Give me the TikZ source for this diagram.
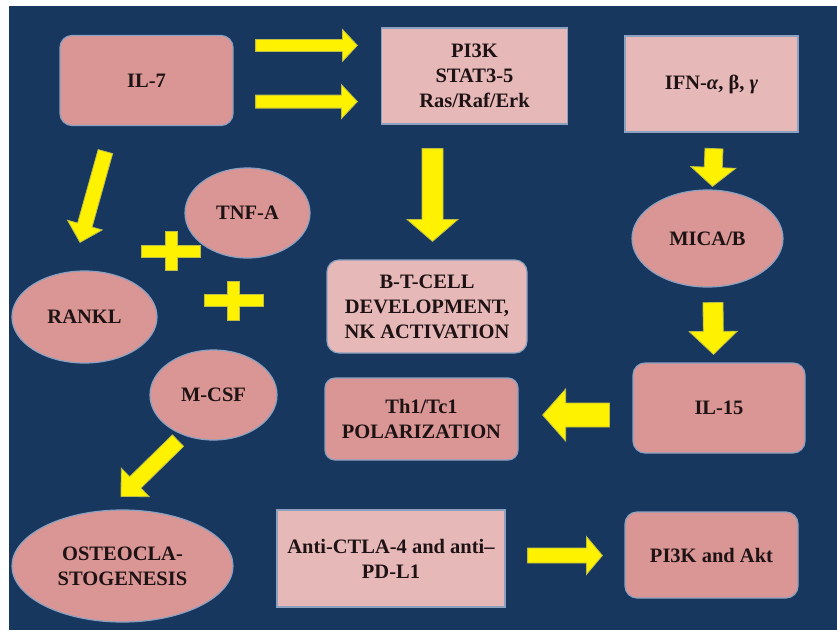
\documentclass[tikz,border=0pt]{standalone}
\usepackage{fontspec}
\setmainfont{Liberation Serif}[BoldFont={Liberation Serif Bold},ItalicFont={Liberation Serif Italic},BoldItalicFont={Liberation Serif Bold Italic}]
\usetikzlibrary{shapes.geometric,calc}
\definecolor{navy}{RGB}{23,55,94}
\definecolor{dpink}{RGB}{217,150,148}
\definecolor{lpink}{RGB}{230,185,184}
\definecolor{edge}{RGB}{140,160,192}
\definecolor{ink}{RGB}{30,18,20}
\definecolor{yedge}{RGB}{190,190,70}
\newcommand\barrow[5]{%
  \coordinate (bh) at ($(#2)!#5!(#1)$);
  \filldraw[yarrow] ($(#1)!#3!90:(#2)$) -- ($(bh)!#3!-90:(#1)$) -- ($(bh)!#4!-90:(#1)$) -- (#2)
    -- ($(bh)!#4!90:(#1)$) -- ($(bh)!#3!90:(#1)$) -- ($(#1)!#3!-90:(#2)$) -- cycle;
}
\tikzset{
  yarrow/.style={fill=yellow,draw=yedge,line width=0.8pt,line join=miter},
  base/.style={draw=edge,line width=1.2pt,text=ink,align=center,inner sep=0pt,
    font=\rmfamily\bfseries\fontsize{20.5}{25}\selectfont},
  rbox/.style={base,rectangle,rounded corners=12pt},
  sbox/.style={base,rectangle},
  oval/.style={base,ellipse},
  dk/.style={fill=dpink},
  lt/.style={fill=lpink},
}
\begin{document}
\begin{tikzpicture}[x=1pt,y=-1pt]
\useasboundingbox (0,0) rectangle (837,630);
\fill[white] (0,0) rectangle (837,630);
\fill[navy] (9,6) rectangle (837,630);

% nodes
\node[rbox,dk,minimum width=173pt,minimum height=90pt] (il7) at (146.5,80.5) {IL-7};
\node[sbox,lt,minimum width=186pt,minimum height=96pt] (pi3k) at (474.5,76) {PI3K\\STAT3-5\\Ras/Raf/Erk};
\node[sbox,lt,minimum width=173pt,minimum height=96pt] (ifn) at (711.5,84) {IFN-\textit{α}, β, \textit{γ}};
\node[rbox,lt,minimum width=200pt,minimum height=93pt] (bt) at (427,306.5) {B-T-CELL\\DEVELOPMENT,\\NK ACTIVATION};
\node[rbox,dk,minimum width=193pt,minimum height=82pt,rounded corners=10pt] (th1) at (421.5,419) {Th1/Tc1\\POLARIZATION};
\node[rbox,dk,minimum width=172pt,minimum height=90pt] (il15) at (719,408) {IL-15};
\node[sbox,lt,minimum width=228pt,minimum height=97pt] (anti) at (391,558.5) {Anti-CTLA-4 and anti–\\PD-L1};
\node[rbox,dk,minimum width=173pt,minimum height=86pt] (akt) at (711.5,555) {PI3K and Akt};
\node[oval,dk,minimum width=125pt,minimum height=90pt] (tnf) at (247.5,213) {TNF-A};
\node[oval,dk,minimum width=145pt,minimum height=92pt] (rankl) at (84.5,317) {RANKL};
\node[oval,dk,minimum width=127pt,minimum height=90pt] (mcsf) at (213.5,395) {M-CSF};
\node[oval,dk,minimum width=221pt,minimum height=112pt] (osteo) at (122.5,566) {OSTEOCLA-\\STOGENESIS};
\node[oval,dk,minimum width=151pt,minimum height=97pt] (mica) at (707.5,238.5) {MICA/B};

% arrow ends
\coordinate (a1t) at ($(il7.north east)+(22,10.5)$);
\coordinate (a1h) at ($(pi3k.north west)+(-23.5,18)$);
\coordinate (a2t) at ($(il7.south east)+(22,-24.5)$);
\coordinate (a2h) at ($(pi3k.south west)+(-23.5,-23)$);
\coordinate (a3t) at ($(pi3k.south)+(-42,24)$);
\coordinate (a3h) at ($(bt.north)+(5.5,-18)$);
\coordinate (a4t) at ($(ifn.south)+(2.5,16)$);
\coordinate (a4h) at ($(mica.north)+(5,-3)$);
\coordinate (a5t) at ($(mica.south)+(5.5,15)$);
\coordinate (a5h) at ($(il15.north)+(-5.5,-8)$);
\coordinate (a6t) at ($(il15.west)+(-23,7)$);
\coordinate (a6h) at ($(th1.east)+(24,-4)$);
\coordinate (a7t) at ($(anti.east)+(22,-3)$);
\coordinate (a7h) at ($(akt.west)+(-22,0.5)$);
\coordinate (a8t) at ($(il7.south west)+(46,25.5)$);
\coordinate (a8h) at ($(rankl.north)+(-4.5,-28)$);
\coordinate (a9t) at ($(mcsf.south)+(-35.5,0)$);
\coordinate (a9h) at ($(osteo.north)+(-1.5,-13)$);

\barrow{a1t}{a1h}{6pt}{16pt}{15pt}
\barrow{a2t}{a2h}{6.5pt}{17pt}{16pt}
\barrow{a3t}{a3h}{10.5pt}{25.5pt}{22pt}
\barrow{a4t}{a4h}{9pt}{22.5pt}{19pt}
\barrow{a5t}{a5h}{10pt}{24pt}{23pt}
\barrow{a6t}{a6h}{12pt}{26pt}{23pt}
\barrow{a7t}{a7h}{7.5pt}{19pt}{16pt}
\barrow{a8t}{a8h}{7.5pt}{18pt}{18pt}
\barrow{a9t}{a9h}{8pt}{20pt}{20pt}

% plus signs
\coordinate (p1) at (171,251);
\coordinate (p2) at (233.5,300.5);
\foreach \p in {p1,p2}{
  \filldraw[yarrow,shift={(\p)}] (-6,-19.5) -- (6,-19.5) -- (6,-6) -- (29.5,-6) -- (29.5,6) -- (6,6)
    -- (6,19.5) -- (-6,19.5) -- (-6,6) -- (-29.5,6) -- (-29.5,-6) -- (-6,-6) -- cycle;
}
\end{tikzpicture}
\end{document}
